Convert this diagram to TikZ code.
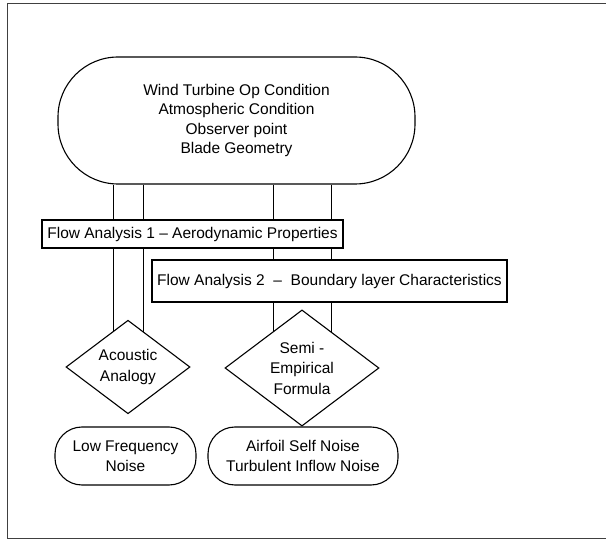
\documentclass[tikz,border=0pt]{standalone}
\usepackage{fontspec}
\setmainfont{Liberation Sans}
\usetikzlibrary{shapes.geometric,backgrounds}
\tikzset{
  term/.style = {draw, fill=white, line width=1.1pt, align=center, inner sep=0pt,
                 font=\fontsize{15.5}{19.5}\selectfont},
  proc/.style = {draw, fill=white, line width=1.1pt, inner sep=0pt,
                 font=\fontsize{15.5}{18}\selectfont},
  deci/.style = {diamond, draw, fill=white, line width=1.1pt, inner sep=0pt, align=center,
                 font=\fontsize{15.5}{20.5}\selectfont},
  link/.style = {draw, line width=0.9pt},
  frame/.style = {draw=black!75, line width=0.8pt},
}

\begin{document}
\begin{tikzpicture}[x=1pt,y=-1pt]
\useasboundingbox (0,0) rectangle (606,540);

% ------------------------------------------------------------------ frame
\draw[frame] (606,3) -- (7,3) -- (7,538) -- (606,538);

% ------------------------------------------------------------------ inputs and flow
\node[term, minimum width=357pt, minimum height=127pt, rounded corners=60pt] (n1) at (236.5,120.5)
  {Wind Turbine Op Condition\\ Atmospheric Condition\\ Observer point\\ Blade Geometry};
\node[proc, minimum width=301pt, minimum height=28pt] (f1) at (192.5,234)
  {Flow Analysis 1 -- Aerodynamic Properties};
\node[proc, minimum width=355pt, minimum height=42pt] (f2) at (329.5,281)
  {Flow Analysis 2 ~-- ~Boundary layer Characteristics};

% ------------------------------------------------------------------ methods
\node[deci, minimum width=124pt, minimum height=80pt] (d1) at (128,367)
  {Acoustic\\ Analogy};
\node[deci, minimum width=154pt, minimum height=100pt] (d2) at (302,368)
  {Semi -\\ Empirical\\ Formula};

% ------------------------------------------------------------------ outputs
\node[term, minimum width=141pt, minimum height=58pt, rounded corners=27pt] (o1) at (125.5,456)
  {Low Frequency\\ Noise};
\node[term, minimum width=190pt, minimum height=58pt, rounded corners=27pt] (o2) at (303,456)
  {Airfoil Self Noise\\ Turbulent Inflow Noise};

% ------------------------------------------------------------------ links (behind the boxes)
\begin{scope}[on background layer]
\foreach \dx in {-15,15}{\draw[link] ([xshift=\dx pt]d1.center |- n1.south) -- ([xshift=\dx pt]d1.center);}
\foreach \dx in {-29,29}{\draw[link] ([xshift=\dx pt]d2.center |- n1.south) -- ([xshift=\dx pt]d2.center);}
\end{scope}

\end{tikzpicture}
\end{document}
